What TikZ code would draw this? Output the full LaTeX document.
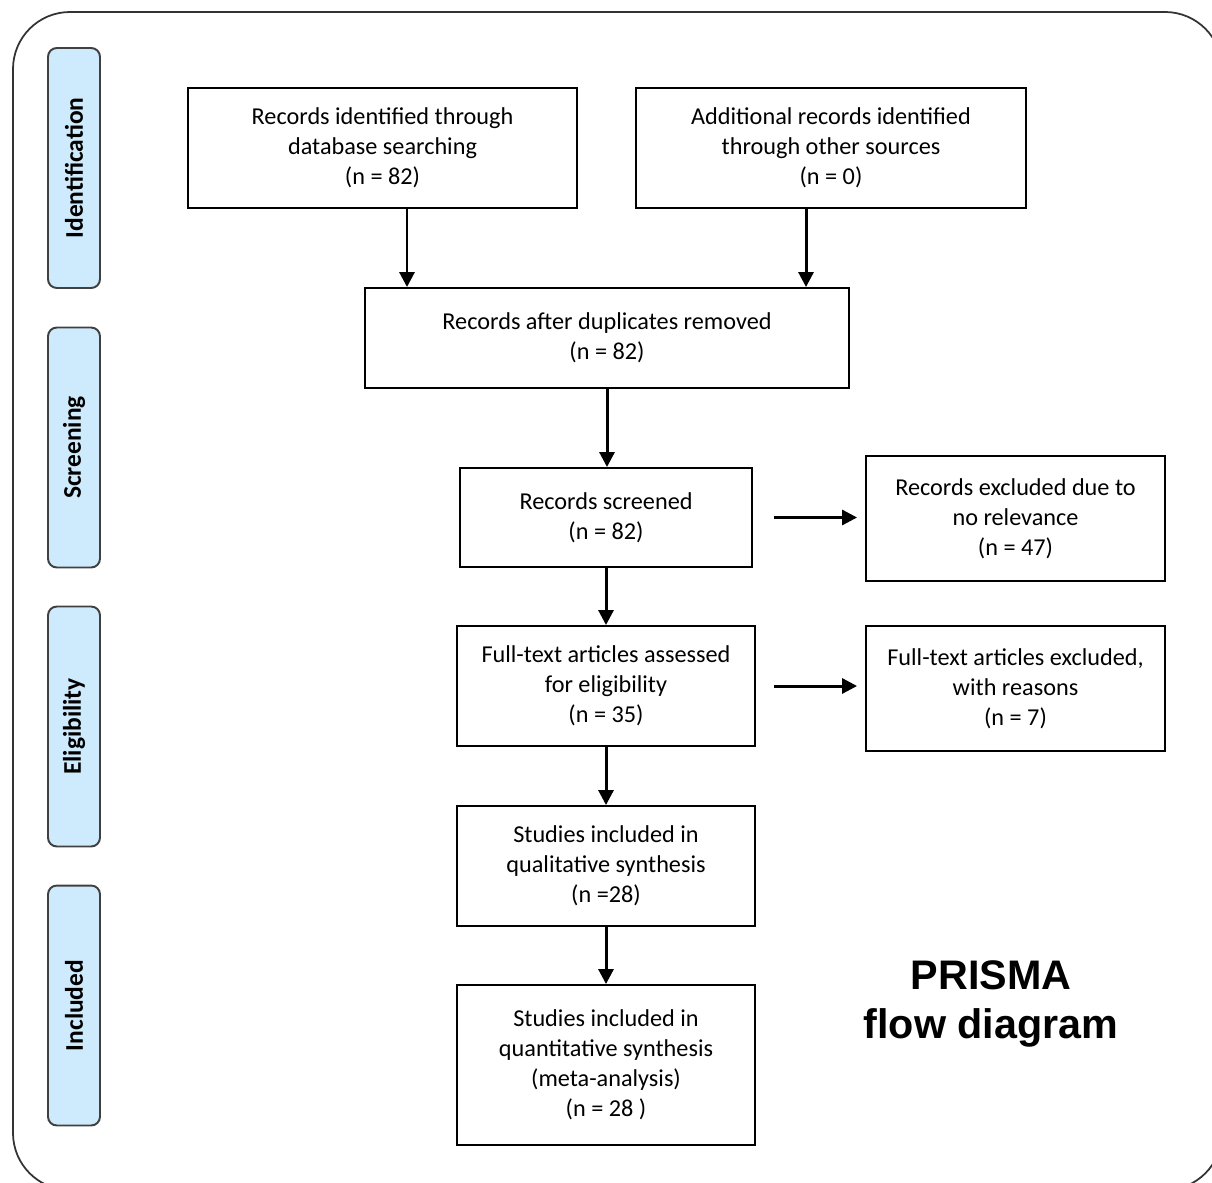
\documentclass[tikz,border=0pt]{standalone}
\usepackage{fontspec}
\setmainfont{Carlito}
\newfontfamily\prismafont{Liberation Sans}
\usetikzlibrary{arrows.meta}
\definecolor{phasefill}{RGB}{205,235,252}
\tikzset{
  box/.style={draw, line width=1.1pt, align=center, inner sep=0pt,
    font=\fontsize{13.8}{17.1}\selectfont},
  phase/.style={draw=black!75, fill=phasefill, rounded corners=5pt, line width=1.1pt,
    minimum width=4.8cm, minimum height=1.04cm, rotate=90, inner sep=0pt,
    font=\bfseries\fontsize{14.5}{17}\selectfont},
  arr/.style={-{Triangle[length=0.3cm,width=0.3cm]}, line width=1.7pt}
}
\begin{document}
\begin{tikzpicture}[x=0.02cm, y=-0.02cm]
    \useasboundingbox (0,0) rectangle (1212,1182);
    \clip (0,0) rectangle (1212,1182);
    % outer frame
    \draw[line width=1pt, black!80, rounded corners=1.14cm] (13,12) rectangle (1222,1190);

    % phases
    \node[phase] (ident) at (74,168) {Identification};
    \node[phase] (screen) at (74,447.5) {Screening};
    \node[phase] (elig) at (74,726.5) {Eligibility};
    \node[phase] (incl) at (74,1005.5) {Included};

    % flow boxes
    \node[box, minimum width=7.78cm, minimum height=2.4cm] (db) at (382.5,148)
        {Records identified through\\database searching\\(n = 82)};
    \node[box, minimum width=7.8cm, minimum height=2.4cm] (other) at (831,148)
        {Additional records identified\\through other sources\\(n = 0)};
    \node[box, minimum width=9.68cm, minimum height=2cm] (dup) at (607,338)
        {Records after duplicates removed\\(n = 82)};
    \node[box, minimum width=5.84cm, minimum height=1.98cm] (scr) at (606,517.5)
        {Records screened\\(n = 82)};
    \node[box, minimum width=5.98cm, minimum height=2.5cm] (excl) at (1015.5,518.5)
        {Records excluded due to\\no relevance\\(n = 47)};
    \node[box, minimum width=5.96cm, minimum height=2.4cm] (full) at (606,686)
        {Full-text articles assessed\\for eligibility\\(n = 35)};
    \node[box, minimum width=5.98cm, minimum height=2.5cm] (fullexcl) at (1015.5,688.5)
        {Full-text articles excluded,\\with reasons\\(n = 7)};
    \node[box, minimum width=5.96cm, minimum height=2.4cm] (qual) at (606,866)
        {Studies included in\\qualitative synthesis\\(n =28)};
    \node[box, minimum width=5.96cm, minimum height=3.2cm] (quant) at (606,1065)
        {Studies included in\\quantitative synthesis\\(meta-analysis)\\(n = 28 )};

    % title
    \node[align=center, font=\prismafont\bfseries\fontsize{23.5}{28}\selectfont] (title) at (991,1004)
        {PRISMA\\flow diagram};

    % arrows
    \draw[arr] ([xshift=0.49cm]db.south) -- ([xshift=0.49cm]db.south |- dup.north);
    \draw[arr] ([xshift=-0.5cm]other.south) -- ([xshift=-0.5cm]other.south |- dup.north);
    \draw[arr] (dup.south) -- (dup.south |- scr.north);
    \draw[arr] (scr.south) -- (full.north);
    \draw[arr] (full.south) -- (qual.north);
    \draw[arr] (qual.south) -- (quant.north);
    \draw[arr, shorten >=0.16cm] ([xshift=0.42cm]scr.east) -- (scr.east -| excl.west);
    \draw[arr, shorten >=0.16cm] ([xshift=0.36cm]full.east) -- (full.east -| fullexcl.west);
\end{tikzpicture}
\end{document}
